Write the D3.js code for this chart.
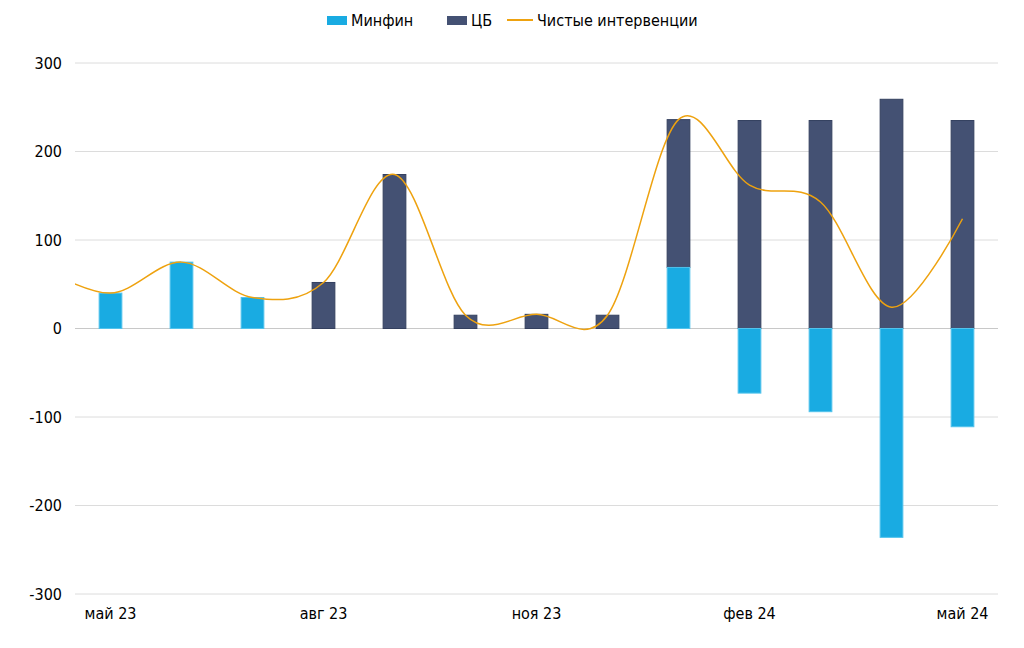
<!DOCTYPE html>
<html>
<head>
<meta charset="utf-8">
<script src="https://cdn.jsdelivr.net/npm/d3@7"></script>
<style>
    body { margin: 0; background: #fff; }
    text { font-family: "DejaVu Sans Condensed", "DejaVu Sans", sans-serif; }
</style>
</head>
<body>
<div id="chart"></div>
<script>
// months; the first one (апр 23) only carries the line's lead-in
const months = ["апр 23","май 23","июн 23","июл 23","авг 23","сен 23","окт 23","ноя 23","дек 23","янв 24","фев 24","мар 24","апр 24","май 24"];
const minfin = [null, 40, 75, 35, 0, 0, 0, 0, 0, 69, -73, -94, -236, -111];
const cb     = [null, 0, 0, 0, 52, 174, 15, 16, 15, 167, 235, 235, 259, 235];
const net    = [70, 40, 75, 35, 52, 174, 15, 16, 15, 236, 162, 143, 24, 124];
const xLabels = ["май 23","авг 23","ноя 23","фев 24","май 24"];
const yTicks = [300, 200, 100, 0, -100, -200, -300];

const width = 1024, height = 648;
const margin = { top: 63, right: 26, bottom: 54, left: 75 };
const plotRight = width - margin.right;
const plotBottom = height - margin.bottom;

const svg = d3.select("#chart").append("svg")
    .attr("width", width).attr("height", height);

// one band step to the left of the plot holds апр 23 (clipped away)
const step = (plotRight - margin.left) / (months.length - 1);
const x = d3.scaleBand()
    .domain(months)
    .range([margin.left - step, plotRight])
    .paddingInner(0.68)
    .paddingOuter(0.34);
const cx = d => x(d) + x.bandwidth() / 2;

const y = d3.scaleLinear().domain([-300, 300]).range([plotBottom, margin.top]);

// сетка
svg.append("g")
    .selectAll("line")
    .data(yTicks)
    .enter()
    .append("line")
    .attr("x1", margin.left).attr("x2", plotRight)
    .attr("y1", d => y(d)).attr("y2", d => y(d))
    .attr("stroke", d => d === 0 ? "#c8c8c8" : "#dcdcdc")
    .attr("stroke-width", 1);

// ось Y
const axisY = svg.append("g")
    .attr("transform", "translate(" + 62 + ",0)")
    .call(d3.axisLeft(y).tickValues(yTicks).tickSize(0).tickPadding(0)
        .tickFormat(d => String(d)));
axisY.select(".domain").remove();
axisY.selectAll("text")
    .attr("font-size", "16px")
    .attr("fill", "#000")
    .style("font-family", "'DejaVu Sans Condensed', 'DejaVu Sans', sans-serif");

// ось X
const axisX = svg.append("g")
    .attr("transform", "translate(0," + (plotBottom + 8) + ")")
    .call(d3.axisBottom(x).tickValues(xLabels).tickSize(0).tickPadding(6));
axisX.select(".domain").remove();
axisX.selectAll("text")
    .attr("font-size", "16px")
    .attr("fill", "#000")
    .style("font-family", "'DejaVu Sans Condensed', 'DejaVu Sans', sans-serif");

// столбцы
const rows = months.map((m, i) => ({ m: m, mf: minfin[i], cb: cb[i] }))
    .filter(d => d.mf !== null);

svg.append("g").selectAll("rect")
    .data(rows.filter(d => d.cb !== 0))
    .enter()
    .append("rect")
    .attr("x", d => x(d.m))
    .attr("width", x.bandwidth())
    .attr("y", d => y(Math.max(d.mf, 0) + d.cb))
    .attr("height", d => y(Math.max(d.mf, 0)) - y(Math.max(d.mf, 0) + d.cb))
    .attr("fill", "#445173")
    .attr("stroke", "#34405f")
    .attr("stroke-width", 1);

svg.append("g").selectAll("rect")
    .data(rows.filter(d => d.mf !== 0))
    .enter()
    .append("rect")
    .attr("x", d => x(d.m))
    .attr("width", x.bandwidth())
    .attr("y", d => y(Math.max(d.mf, 0)))
    .attr("height", d => Math.abs(y(d.mf) - y(0)))
    .attr("fill", "#19abe2")
    .attr("stroke", "#52c3ec")
    .attr("stroke-width", 1);

// линия чистых интервенций
svg.append("clipPath").attr("id", "plot")
    .append("rect")
    .attr("x", margin.left).attr("y", 0)
    .attr("width", plotRight - margin.left).attr("height", height);

svg.append("path")
    .datum(months.map((m, i) => [cx(m), y(net[i])]))
    .attr("clip-path", "url(#plot)")
    .attr("fill", "none")
    .attr("stroke", "#eea20f")
    .attr("stroke-width", 1.5)
    .attr("d", d3.line().curve(d3.curveCardinal.tension(0)));

// легенда
const legend = svg.append("g").attr("transform", "translate(0,20)");
const items = [
    { name: "Минфин", type: "rect", color: "#19abe2", x: 327 },
    { name: "ЦБ", type: "rect", color: "#445173", x: 447 },
    { name: "Чистые интервенции", type: "line", color: "#eea20f", x: 507 }
];
items.forEach(it => {
    if (it.type === "rect") {
        legend.append("rect")
            .attr("x", it.x).attr("y", -4)
            .attr("width", 20).attr("height", 9)
            .attr("fill", it.color);
        legend.append("text")
            .attr("x", it.x + 24).attr("y", 6)
            .attr("font-size", "16px")
            .text(it.name);
    } else {
        legend.append("line")
            .attr("x1", it.x).attr("x2", it.x + 26)
            .attr("y1", 0).attr("y2", 0)
            .attr("stroke", it.color).attr("stroke-width", 2);
        legend.append("text")
            .attr("x", it.x + 30).attr("y", 6)
            .attr("font-size", "16px")
            .text(it.name);
    }
});
</script>
</body>
</html>
